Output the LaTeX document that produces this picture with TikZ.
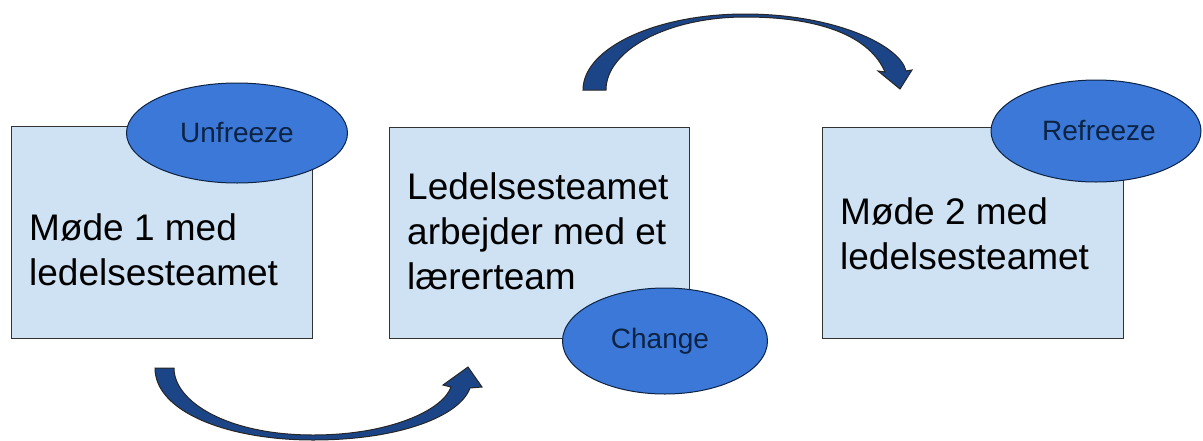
\documentclass[tikz,border=0pt]{standalone}
\usepackage{fontspec}
\setmainfont{Liberation Sans}
\usetikzlibrary{shapes.geometric}
\definecolor{boxfill}{HTML}{CFE2F3}
\definecolor{ovalfill}{HTML}{3C78D8}
\definecolor{arrowfill}{HTML}{1C4587}
\definecolor{ovaltext}{HTML}{0C2344}
\definecolor{boxedge}{HTML}{333333}

\begin{document}
\begin{tikzpicture}[x=1pt,y=-1pt,
  stage/.style={rectangle, draw=boxedge, line width=1.3pt, fill=boxfill,
    inner sep=0pt, anchor=north west},
  stagetext/.style={anchor=west, inner sep=0pt, align=left,
    font=\fontsize{37}{45}\selectfont},
  phase/.style={ellipse, draw=ovaltext, line width=1pt, fill=ovalfill,
    inner sep=0pt, text=ovaltext, font=\fontsize{28}{30}\selectfont},
  bendarrow/.style={fill=arrowfill, draw=black!85, line width=1pt, line join=miter}]

\useasboundingbox (0,0) rectangle (1203,440);
\fill[white] (0,0) rectangle (1203,440);

% the three stages
\node[stage, minimum width=301pt, minimum height=212pt] (box1) at (11,126) {};
\node[stage, minimum width=300pt, minimum height=211pt] (box2) at (389,127) {};
\node[stage, minimum width=301pt, minimum height=211pt] (box3) at (822,127) {};

\node[stagetext] (t1) at (29,250) {Møde 1 med\\ledelsesteamet};
\node[stagetext] (t2) at (407,231) {Ledelsesteamet\\arbejder med et\\lærerteam};
\node[stagetext] (t3) at (840,234) {Møde 2 med\\ledelsesteamet};

% phase labels
\node[phase, minimum width=221pt, minimum height=100pt] (unfreeze) at (237,133) {Unfreeze};
\node[phase, minimum width=205pt, minimum height=106pt] (change) at (665,341) {\raisebox{2pt}{Change}\hspace*{10pt}};
\node[phase, minimum width=210pt, minimum height=102pt] (refreeze) at (1096,131) {\hspace*{6pt}Refreeze};

% curved arrow below, from stage 1 to stage 2
\draw[bendarrow] (155,368) .. controls (155,412) and (228,440) .. (313,440)
  .. controls (400,440) and (460,416) .. (470,388)
  -- (482,387) -- (468,367) -- (443,385) -- (451,387)
  .. controls (443,410) and (390,435) .. (313,435)
  .. controls (228,435) and (174,402) .. (174,368) -- cycle;

% curved arrow above, from stage 2 to stage 3
\draw[bendarrow] (583,90) .. controls (583,48) and (656,14) .. (745,14)
  .. controls (834,14) and (900,45) .. (906,71)
  -- (912,70) -- (900,89) -- (878,71) -- (885,72)
  .. controls (870,37) and (822,17) .. (745,17)
  .. controls (668,17) and (606,50) .. (606,90) -- cycle;
\end{tikzpicture}
\end{document}
